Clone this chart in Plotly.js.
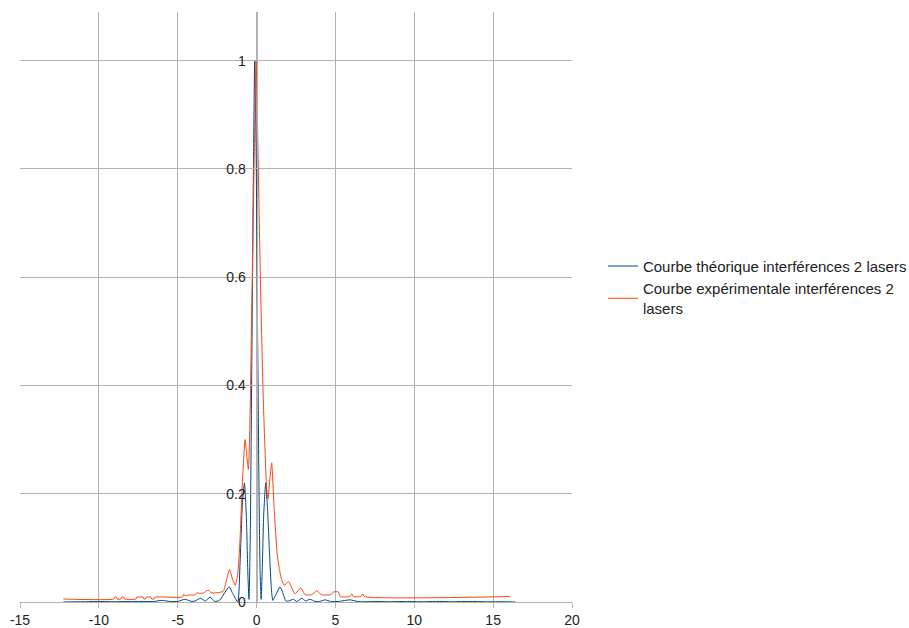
<!DOCTYPE html>
<html>
<head>
<meta charset="utf-8">
<script src="https://cdn.plot.ly/plotly-3.0.1.min.js"></script>
<style>html,body{margin:0;padding:0;background:#fff;}#chart{width:909px;height:628px;}</style>
</head>
<body>
<div id="chart"></div>
<script>
// Theoretical curve
const xTheo = [-12.25,-11,-10,-9,-8,-7,-6.5,-6.0,-5.5,-5.0,-4.55,-4.1,-3.9,-3.55,-3.25,-2.95,-2.65,-2.35,-2.0,-1.74,-1.5,-1.19,-1.05,-0.9,-0.77,-0.65,-0.55,-0.48,-0.4,-0.3,-0.2,-0.12,-0.03,0.05,0.15,0.22,0.29,0.36,0.45,0.58,0.7,0.82,0.95,1.03,1.2,1.49,1.65,1.85,2.05,2.33,2.55,2.87,3.1,3.4,3.7,4.0,4.34,4.7,5.2,5.93,6.5,7.5,8.5,9.5,10.5,11.5,12.5,13.5,14.5,15.5,16.4];
const yTheo = [0,0.0005,0.001,0.0005,0.001,0.001,0.001,0.003,0.001,0.001,0.005,0.001,0.002,0.007,0.002,0.009,0.001,0.003,0.018,0.028,0.015,0.0,0.07,0.18,0.22,0.16,0.05,0.005,0.12,0.45,0.8,1.0,0.84,0.55,0.22,0.06,0.005,0.06,0.16,0.22,0.17,0.09,0.02,0.003,0.012,0.028,0.018,0.002,0.002,0.005,0.001,0.007,0.002,0.005,0.001,0.001,0.004,0.001,0.001,0.004,0.0005,0.001,0.0005,0.001,0.0005,0.001,0.0005,0.001,0.0005,0.0005,0];

const xExp = [-12.25,-9.05,-9.0,-8.88,-8.83,-8.6,-8.55,-8.42,-8.38,-7.65,-7.6,-7.2,-7.15,-7.05,-7.0,-6.7,-6.65,-6.5,-6.45,-4.7,-4.64,-4.5,-4.2,-3.9,-3.8,-3.6,-3.3,-3.2,-3.0,-2.9,-2.6,-2.3,-2.1,-1.95,-1.72,-1.5,-1.36,-1.2,-1.05,-0.9,-0.73,-0.62,-0.52,-0.43,-0.3,-0.15,-0.03,0.11,0.24,0.4,0.5,0.62,0.72,0.85,0.96,1.1,1.3,1.45,1.6,1.75,2.02,2.44,2.8,3.08,3.5,3.82,4.1,4.7,4.87,5.19,5.3,5.9,6.04,6.15,6.6,6.73,6.85,16.07];
const yExp = [0.0055,0.0055,0.009,0.009,0.0055,0.0055,0.009,0.009,0.0055,0.0055,0.009,0.009,0.0055,0.0055,0.009,0.009,0.0055,0.0055,0.009,0.009,0.014,0.012,0.013,0.013,0.017,0.016,0.017,0.021,0.021,0.017,0.017,0.018,0.02,0.035,0.06,0.04,0.031,0.05,0.115,0.22,0.30,0.27,0.245,0.32,0.55,0.82,1.0,0.8,0.6,0.4,0.31,0.22,0.19,0.23,0.257,0.18,0.09,0.06,0.04,0.031,0.0375,0.015,0.026,0.0135,0.0135,0.021,0.0135,0.0135,0.0185,0.0185,0.01,0.01,0.015,0.01,0.01,0.015,0.01,0.01];

const xTicks = [-15,-10,-5,0,5,10,15,20];
const yTicks = [0,0.2,0.4,0.6,0.8,1];
const names = ["Courbe théorique interférences 2 lasers", "Courbe expérimentale interférences 2<br>lasers"];

const tickFont = {family: "Liberation Sans, Arial, sans-serif", size: 14, color: "#222"};
const legendFont = {family: "Liberation Sans, Arial, sans-serif", size: 15, color: "#222"};

const traces = [
  {x: xTheo, y: yTheo, type: "scatter", mode: "lines", name: names[0],
   line: {color: "#004586", width: 1, shape: "spline", smoothing: 0.5}},
  {x: xExp, y: yExp, type: "scatter", mode: "lines", name: names[1],
   line: {color: "#ff420e", width: 1, shape: "spline", smoothing: 0.5}}
];

const layout = {
  width: 909, height: 628,
  margin: {l: 20, r: 337, t: 12, b: 26, autoexpand: false},
  paper_bgcolor: "#fff", plot_bgcolor: "#fff",
  font: tickFont,
  showlegend: true,
  legend: {x: 1.056, xanchor: "left", y: 0.597, yanchor: "top", font: legendFont, tracegroupgap: 0, bgcolor: "rgba(0,0,0,0)"},
  xaxis: {range: [-15, 20], tickvals: xTicks, ticktext: xTicks.map(String), showgrid: true, gridcolor: "#b3b3b3", gridwidth: 1,
          zeroline: false, showline: true, linecolor: "#b3b3b3", linewidth: 1, ticks: "outside", ticklen: 5, tickcolor: "#b3b3b3",
          tickfont: tickFont, fixedrange: true},
  yaxis: {range: [0, 1.09], tickvals: yTicks, ticktext: yTicks.map(String), showgrid: true, gridcolor: "#b3b3b3", gridwidth: 1,
          zeroline: false, showline: true, linecolor: "#b3b3b3", linewidth: 1, anchor: "free", position: 15/35,
          ticks: "outside", ticklen: 8, tickcolor: "#b3b3b3", tickfont: tickFont, fixedrange: true}
};

Plotly.newPlot("chart", traces, layout, {staticPlot: true, displayModeBar: false});
</script>
</body>
</html>
